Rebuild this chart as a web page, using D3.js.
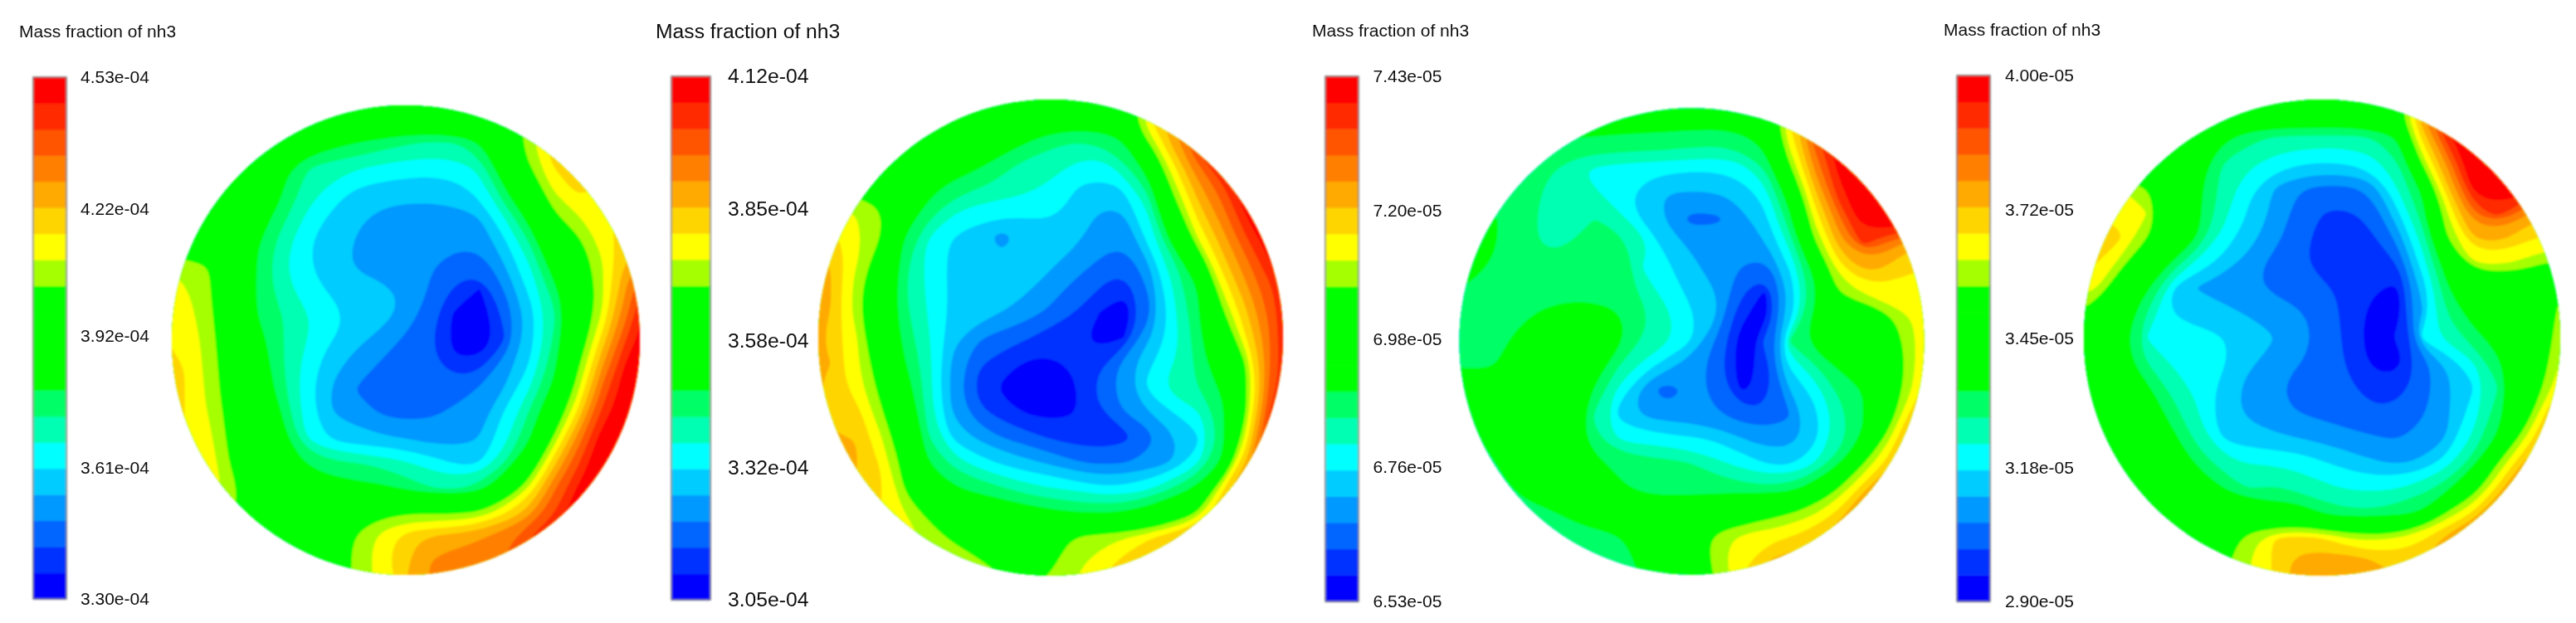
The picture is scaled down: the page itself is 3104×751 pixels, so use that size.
<!DOCTYPE html>
<html lang="en">
  <head>
    <meta charset="utf-8">
    <title>Mass fraction of nh3</title>
    <style>
      body { margin: 0; background: #fff; }
      svg { display: block; }
      text { font-family: "Liberation Sans", Arial, sans-serif; fill: #111; }
    </style>
  </head>
  <body>
    <svg width="3104" height="751"></svg>
    <script src="https://d3js.org/d3.v7.min.js"></script>
    <script>
      // colour band index = level on the colour bar, counted from the bottom (20 bands)
      const bandColors = ["#0000ff", "#0033ff", "#0066ff", "#0099ff", "#00ccff", "#00ffff", "#00ffb2", "#00ff66",
        "#00ff00", "#00ff00", "#00ff00", "#00ff00", "#a6ff00", "#ffff00", "#ffd500", "#ffaa00",
        "#ff8000", "#ff5500", "#ff2a00", "#ff0000"];

      const title = "Mass fraction of nh3";
      const labels1 = ["3.30e-04", "3.61e-04", "3.92e-04", "4.22e-04", "4.53e-04"];
      const labels2 = ["3.05e-04", "3.32e-04", "3.58e-04", "3.85e-04", "4.12e-04"];
      const labels3 = ["6.53e-05", "6.76e-05", "6.98e-05", "7.20e-05", "7.43e-05"];
      const labels4 = ["2.90e-05", "3.18e-05", "3.45e-05", "3.72e-05", "4.00e-05"];

      const levels1 = [
        [10,10,10,10,10,10,10,10,10,10,10,10,10,10,10,13,15,16,16,16,16],
        [10,10,10,10,10,10,10,10,10,10,10,10,10,10,10.5,12.5,14,15,15,15,15],
        [10,10,10,10,10,10,9,8.5,8,7.6,7.1,6.9,6.9,8,10,12.9,15,15,15,15,15],
        [10,10,10,10,9,8.1,7,6.5,6.1,5.8,5.5,5.4,5.4,6.2,9,11.8,14,14.5,15,15,15],
        [10,10,10,10,9,8.1,6.5,5.5,4.7,4.4,4.3,4.3,4.3,5.4,7.8,10,13,14.2,13.5,15,15],
        [10,10,10,10,8.8,7.3,5.8,4.8,4.2,3.7,3.6,3.6,3.7,4,6,8.5,11.7,12.9,13.5,15,15],
        [11,10,10,9.7,8.1,6.5,5,4.5,3.9,3.7,3.5,3.4,3.1,3.2,4.8,7,10,11.6,13.3,14.5,15],
        [13,12.8,12,10,7.8,6,5,4.4,3.8,3.6,3.4,3.05,2.6,2.1,3.9,5.8,8.7,10.5,12.9,15.5,18],
        [14,13.2,12.1,10,7.8,6.3,5.5,4.8,4.5,4.3,3.95,2.9,1.7,0.9,3,5.2,7.5,10,12.8,16.2,20],
        [14,13.5,12.3,10,7.9,7,6.1,5.4,4.9,4.5,3.8,2.3,0.8,0.2,2.2,4.2,6.6,9.5,13.1,16.9,20],
        [14,13.8,12.6,10.5,8.6,7.1,6,5,4.3,3.5,2.8,2.1,0.7,0.1,1.9,4.4,7.2,10.6,14.5,18.2,20],
        [14,14,12.6,10.8,9,7,5.4,4.3,3.5,2.9,2.4,2.1,1.15,1.5,3.5,5,7.5,11.7,15.9,19.4,20],
        [14,14,12.7,11,9,7.2,5.3,3.9,2.9,2.5,2.4,2.3,2.4,3.1,4,5.9,8.3,12.7,17.3,20,20],
        [14,14,12.9,11.2,9.5,8,5.4,4,3.5,2.9,2.6,2.8,3.3,3.7,5.2,7.2,10,14.3,18.3,20,20],
        [14,14,13.3,11.5,9.5,8.1,5.8,4.7,4.4,4.2,4,3.7,3.4,3.95,5.5,7.6,12.2,16.5,20,20,20],
        [14,14,13.5,11.5,10,8.8,7.9,7.1,7.1,6.7,6.2,5.6,4.9,4.8,7,10,14.6,17.8,20,20,20],
        [14,14,14,12.3,11,10,9.5,8.5,8.5,8.3,7.8,7,6.8,7.3,9.5,13,16.8,19.2,20,20,20],
        [14,14,14,12,11,10,10,10.3,10.5,11.8,11.9,11.8,11.8,12.1,13.8,15.4,17.8,20,20,20,20],
        [14,14,14,12,11,10,10,10.5,12.4,13.6,14.9,15.2,15.5,15.9,16.8,18,19,20,20,20,20],
        [14,14,14,12,11,10,10,10.5,12.3,13.3,14.8,16.2,16.5,16.5,17,18,19,20,20,20,20],
        [14,14,14,12,11,10,10,11,12.5,13.5,15,16,16.5,16.5,17,18,19,20,20,20,20]
      ];
      const levels2 = [
        [10,10,10,10,10,10,10,10,10,10,10,10,10,10,13,16,18,18,18,18,18],
        [10,10,10,10,10,10,10,10,10,10,10,10,10,11.5,14,16,18,19,19,19,19],
        [10,10,10,10,10,10,10,10,9.5,8.3,7.7,7,7.3,8.2,12.5,15.8,19,20,20,20,20],
        [10,10,10,10,10,9.5,9,8.5,7.4,6.8,6.3,6,5.6,7,9,13.9,17,20,20,20,20],
        [12,12,11,11.5,10,8.5,7.5,7.1,6.7,6.4,5.8,5,4.4,5.1,7.3,12.4,15.5,17.5,20,20,20],
        [14,13.5,13,12.3,8.8,7.5,6.1,5.4,5.2,5.1,5.3,4.7,3.9,4,6,10.5,14.4,16.6,19.2,20,20],
        [15,14.5,13.6,12.1,8,5.9,4.9,4.5,3.6,4.5,4.6,4.3,3.5,3,5.5,8.8,13,15.5,17.9,20,20],
        [15.5,15,13.1,11,7.3,5.5,4.7,4.4,4.3,4.3,4.2,3.5,2.9,2.1,4,6.6,10,14.5,16.7,19,20],
        [15.5,15,12.7,10,7.1,5.8,4.8,4.5,4.3,4.2,3.5,2.7,2,1.3,3.1,6,8,13.1,15.8,17.8,20],
        [15.5,15,12.4,9.8,7.2,5.9,4.8,4.5,4,3.5,2.8,2,1,0.3,2.6,5.7,7.8,11.5,14.8,17.2,20],
        [15.5,14.5,13.4,10.5,7.7,6.1,4.3,3.1,2.6,2.1,1.5,1.4,0.6,1,3.8,5.2,7.5,10,14,17,20],
        [15.5,15,13.2,11,8.1,6.4,3.7,2.1,1.5,0.9,0.7,1.2,1.7,3.3,4.8,5.9,7.3,9.5,12,17,20],
        [15.5,14.5,13.5,11.7,9,6.3,3.5,1.8,0.7,0.2,0.2,0.9,2.5,3.9,5.3,6.7,7,8.2,11.8,17,20],
        [15.5,14.5,14.7,12.3,9.7,6.5,3.8,2.2,1.5,0.9,0.5,0.9,1.8,3,3.9,5,5.7,7.4,11.9,18.5,20],
        [15.5,15,15,13.2,10.7,7,4.6,3.8,3,2.4,1.9,1.5,1.3,1.6,2.3,3.8,4.6,7.2,13.5,19,20],
        [15.5,15.5,15.2,13.9,11.6,8,6.6,5.5,4.8,4.3,3.8,3.1,2.8,2.9,3.4,4,5.6,8.1,14.8,20,20],
        [15,15,15,14.5,11.8,10,8.1,7.6,7.1,6.3,6,5.8,5,5.1,5.7,7,8.2,13.7,18,20,20],
        [15,15,15,14,13,11.5,10,9.5,9,8.8,8.3,8,8,8,8.7,9.8,11.8,15,18,20,20],
        [15,15,15,14,13.5,12.8,11.7,10.5,10,10,10.5,12.3,12.5,12.9,13.9,15,16,18,20,20,20],
        [15,15,15,14,14,13,12.8,12.5,11,11,11.9,12.9,13.7,14.5,15,16,17,18,20,20,20],
        [15,15,15,14,14,13,13,13,12.5,12.3,12,13,14,15,15.5,16,17,18,20,20,20]
      ];
      const levels3 = [
        [8.5,8.5,8.5,8.5,8.5,8.5,8.5,8.5,8.5,8.5,8.5,8.5,8.5,10,14,18,20,20,20,20,20],
        [8.5,8.5,8.5,8.5,8.5,8.5,8.5,8.5,8.5,8.5,8.5,8.5,8.5,10,14,18,20,20,20,20,20],
        [8.5,8.5,8.5,8.2,7.9,7.8,7.7,7.6,7.5,7.4,7.2,7,7,8.3,13.2,17.1,20,20,20,20,20],
        [8.5,8.5,8.5,8.4,7.2,6.2,5.7,5.4,5.4,5.1,5.1,5.05,5.2,7,11.5,15.9,19.2,20,20,20,20],
        [8,8,7.8,7.4,6.9,6.7,6.2,5.2,4.4,3.9,3.8,3.9,4.3,5.4,8.6,14.5,18.5,20,20,20,20],
        [8,7.5,8.1,7.3,6.8,6.9,7,6.5,4.8,3.8,2.7,2.8,3.6,4.7,7.7,13.1,16.5,20,20,20,20],
        [8.5,8.5,8,7.5,6.7,7,7.6,7.5,6.6,4.5,3.8,3.7,3.6,4,6.3,11.7,15.4,18.3,16.8,15,15],
        [9,9,7.7,7.5,7.4,7.5,7.6,7.7,5.9,5.2,4.3,3.5,2.9,2.1,5,8.4,13.5,15.4,15,14,14],
        [8,7.5,7.5,7.5,7.6,7.6,7.7,7.6,6.8,5.5,4.7,4,2.2,0.8,4,7.5,12.1,13.1,13.9,13.5,13],
        [7.8,7.6,7.6,7.8,8.4,8.8,8.6,8.2,7.3,6.3,5.2,4.05,1.3,0.3,4.2,8.2,9.5,10.5,11.5,13,14],
        [7.7,7.7,7.8,8.4,9,9.2,9,8.4,6.9,6.2,5.1,2.8,0.4,2.4,7.2,8.6,9.5,10.5,11,12.4,15],
        [8,7.7,8,9,9.8,9.5,8.8,7,5.7,4.3,3.4,2.6,0.4,1.2,5.2,6.8,8.2,9.5,10.5,12.5,15],
        [8,9,9.5,10,10,9.5,7.9,5.7,3.4,2.5,3.3,2.5,0.8,1.2,4,5.3,7.2,8,10,13,15],
        [8,8.3,9.5,10,10,9.5,6.9,4.6,3.7,3.5,3.4,3.15,2.5,2,2.9,4.6,6.4,7.9,10.5,14.5,16],
        [8,7.7,9,10,10,9,7.2,5.8,5.6,5.4,5.2,4.9,4.1,3.5,3.3,4.5,6.3,8.1,12.6,16,17],
        [8,7.7,8,9.5,10,9.5,8.4,7.8,7.6,7.4,7.1,6.3,5.7,5,4.7,5.9,7.8,11.8,14.3,17,18],
        [7.7,7.7,7.7,8.3,9,9.5,9,8.1,7.9,7.8,7.7,7.6,7.5,7.2,7.2,8.8,11.9,14.5,17,18,18],
        [7.7,7.7,7.7,7.7,7.7,8.3,8.5,8.4,8.3,8.5,8.8,9.5,10.5,11.2,11.9,12.8,14.2,17,18,18,18],
        [7.7,7.7,7.7,7.7,7.5,7.5,7.8,7.95,8.2,9.5,11,12.7,13.4,13.6,14,14.6,16,17,18,18,18],
        [7.7,7.7,7.7,7.7,7.7,7.7,7.7,7.8,8.1,9,10.7,12.4,13.8,15.2,15.5,16,17,18,18,18,18],
        [7.7,7.7,7.7,7.7,7.7,7.7,7.7,7.8,8,9,10,12,14,15,15.5,16,17,18,18,18,18]
      ];
      const levels4 = [
        [10,10,10,10,10,10,10,10,10,10,10,10,10,11.7,16,20,20,20,20,20,20],
        [10,10,10,10,10,10,10,10,10,10,10,10,10,11.7,16,20,20,20,20,20,20],
        [10,10,10,10,10,10,8.4,7.3,6.9,6.8,6.7,6.7,6.9,8,14.3,18.7,20,20,20,20,20],
        [10,10,10,10,10,8.6,7,6.4,5.6,5,5,5,5.4,6.9,12.4,16.2,20,20,20,20,20],
        [13,13,13,12,10,8.3,6.6,5.2,4,3.1,2.8,2.8,3.3,6,8.2,14.8,19.5,20,20,18,16],
        [14,14,13.8,13,11,8.5,6.6,5,3.9,2.5,1.95,1.8,2.3,4.8,7.6,12.9,16.8,18.9,16.4,15,15],
        [14,14,14.1,12.1,10,8.1,5.7,4.6,3.5,2.6,1.7,1.4,1.9,3.3,6.4,12.1,15,15.7,14.3,13.8,14],
        [14,14,12.5,9.5,7.9,5.8,4.7,3.6,2.7,2,1.6,1.3,1.4,2.05,5.6,8.8,13,13.4,12.8,11.9,12],
        [14,13.2,9.8,8.2,5,3.9,3.4,3.1,2.8,2.5,2.2,1.9,1.2,0.7,4.3,7.9,9.5,10,10.5,11,13],
        [12,11.5,9,7.1,4.9,4.6,4.4,3.9,3.7,3.2,2.6,1.7,0.6,0.3,3.9,7,8.7,10,10.5,11.5,13],
        [10,9.5,8.2,5.9,5.5,5.3,5.1,4.6,4.1,3.5,2.9,1.7,0.5,1.2,5.5,6.5,7.5,8.5,10,11.5,13.5],
        [10,10,8.5,7,5.9,5.6,5.3,4.2,3.7,3.1,2.6,1.9,0.7,0.3,2.1,4.2,5.7,7.7,9.5,11.9,14],
        [10,10,9.5,8.3,6.7,5.8,4.6,3.7,3,2.8,2.5,2.2,1.5,1.4,2.5,3.7,4.8,6.9,9.5,12.4,15],
        [10,10,10,9,7.5,6.1,4.4,3.8,3.4,3,2.7,2.3,2,2.2,2.8,3.9,5.5,7.5,10,14.5,16],
        [10,10,10,10,8.4,6.6,4.8,4.3,4.2,4,3.7,3.4,3.1,2.9,3.3,4,6.1,8.1,12.5,15,16],
        [10,10,10,10,9,7.8,6.5,5.9,5.9,5.8,5.1,4.6,4.1,3.9,4.1,5.5,7.4,11.9,15,16,16],
        [10,10,10,10,10,9,8,6.9,7.1,6.7,6.2,5.9,5.7,5.9,6.6,7.5,10.5,14.1,17,17,17],
        [10,10,10,10,10,10,10,9.2,8.7,9.5,7.7,7.1,7.2,7.5,8.1,12.2,13.9,17,18,18,18],
        [10,10,10,10,10,10,11,12.8,14,14.3,14,12.9,12.4,13,13.8,15.5,17,18,18,18,18],
        [10,10,10,10,10,10,11.5,12.7,14.1,15.8,15.8,15.8,15.6,14.5,15,16,17,18,18,18,18],
        [10,10,10,10,10,10,12,13,14,15.5,15.8,15.8,15.5,15,15,16,17,18,18,18,18]
      ];

      const panels = [
        { levels: levels1, labels: labels1, titleX: 23, titleY: 38, fontSize: 21, barX: 40, barW: 40, barTop: 93, barBottom: 722, labelX: 97, cx: 489, cy: 410, rx: 282, ry: 283 },
        { levels: levels2, labels: labels2, titleX: 790, titleY: 37, fontSize: 24.7, barX: 809, barW: 47, barTop: 92, barBottom: 723, labelX: 877, cx: 1266, cy: 407, rx: 280, ry: 287 },
        { levels: levels3, labels: labels3, titleX: 1581, titleY: 37, fontSize: 21, barX: 1597, barW: 40, barTop: 92, barBottom: 725, labelX: 1654.5, cx: 2038.5, cy: 411.5, rx: 280, ry: 281 },
        { levels: levels4, labels: labels4, titleX: 2342, titleY: 36, fontSize: 21, barX: 2358, barW: 40, barTop: 91, barBottom: 725, labelX: 2416, cx: 2798, cy: 407, rx: 287, ry: 287 }
      ];

      const gridSize = 21;
      const gridReach = 1.05; // the grid runs a little past the disc edge
      const thresholds = d3.range(1, bandColors.length);

      const svg = d3.select("svg");
      const defs = svg.append("defs");
      defs.append("filter").attr("id", "soft").append("feGaussianBlur").attr("stdDeviation", 1);
      defs.append("filter").attr("id", "softText").append("feGaussianBlur").attr("stdDeviation", 0.55);

      // take the grid-scale corners out of a contour ring before the curve is drawn through it
      function relax(points) {
        if (points.length < 12) return points;
        return points.map((p, i) => {
          const a = points[(i + points.length - 1) % points.length];
          const b = points[(i + 1) % points.length];
          return [(a[0] + 2 * p[0] + b[0]) / 4, (a[1] + 2 * p[1] + b[1]) / 4];
        });
      }

      panels.forEach(function (p, n) {
        const x = d3.scaleLinear().domain([0.5, gridSize - 0.5]).range([p.cx - gridReach * p.rx, p.cx + gridReach * p.rx]);
        const y = d3.scaleLinear().domain([0.5, gridSize - 0.5]).range([p.cy - gridReach * p.ry, p.cy + gridReach * p.ry]);
        const ring = d3.line().x(d => x(d[0])).y(d => y(d[1])).curve(d3.curveBasisClosed);

        const contours = d3.contours()
          .size([gridSize, gridSize])
          .thresholds(thresholds)(p.levels.flat());

        defs.append("clipPath").attr("id", "disc" + n)
          .append("ellipse")
            .attr("cx", p.cx).attr("cy", p.cy).attr("rx", p.rx).attr("ry", p.ry);

        const plot = svg.append("g").attr("filter", "url(#soft)")
          .append("g").attr("clip-path", "url(#disc" + n + ")");

        plot.append("ellipse")
          .attr("cx", p.cx).attr("cy", p.cy).attr("rx", p.rx).attr("ry", p.ry)
          .attr("fill", bandColors[0]);

        plot.selectAll("path")
          .data(contours)
          .join("path")
            .attr("fill", d => bandColors[d.value])
            .attr("fill-rule", "evenodd")
            .attr("d", d => d.coordinates
              .map(poly => poly.map(r => ring(relax(r.slice(0, -1)))).join(""))
              .join(""));

        // colour bar
        const values = p.labels.map(Number);
        const vMin = values[0], vMax = values[values.length - 1];
        const barY = d3.scaleLinear().domain([vMin, vMax]).range([p.barBottom, p.barTop]);
        const bandValue = d3.scaleLinear().domain([0, bandColors.length]).range([vMin, vMax]);

        const bar = svg.append("g").attr("filter", "url(#soft)");
        bar.selectAll("rect")
          .data(bandColors)
          .join("rect")
            .attr("x", p.barX)
            .attr("width", p.barW)
            .attr("y", (d, i) => barY(bandValue(i + 1)))
            .attr("height", (d, i) => barY(bandValue(i)) - barY(bandValue(i + 1)) + 0.5)
            .attr("fill", d => d);
        bar.append("rect")
          .attr("x", p.barX).attr("y", p.barTop)
          .attr("width", p.barW).attr("height", p.barBottom - p.barTop)
          .attr("fill", "none").attr("stroke", "#777").attr("stroke-width", 1.5);

        const text = svg.append("g").attr("filter", "url(#softText)");
        text.append("text")
          .attr("x", p.titleX).attr("y", p.titleY).attr("dy", "0.35em")
          .attr("font-size", p.fontSize)
          .text(title);

        const axis = d3.axisRight(barY)
          .tickValues(values)
          .tickFormat((d, i) => p.labels[i])
          .tickSize(0)
          .tickPadding(0);
        const axisG = text.append("g")
          .attr("transform", "translate(" + p.labelX + ",0)")
          .call(axis);
        axisG.select(".domain").remove();
        axisG.selectAll("text")
          .attr("font-size", p.fontSize)
          .style("font-family", '"Liberation Sans", Arial, sans-serif');
      });
    </script>
  </body>
</html>
